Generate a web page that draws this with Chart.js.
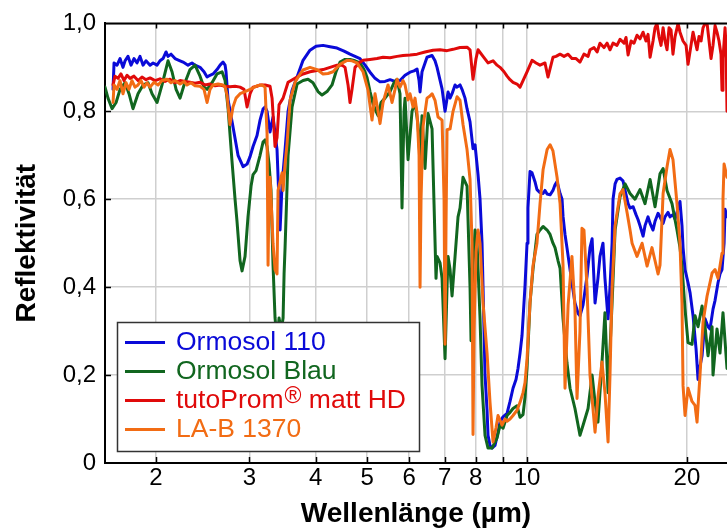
<!DOCTYPE html>
<html>
<head>
<meta charset="utf-8">
<script src="https://cdn.jsdelivr.net/npm/chart.js@4.4.0/dist/chart.umd.min.js"></script>
<style>
  html, body { margin: 0; padding: 0; background: #fff; overflow: hidden; }
  canvas { display: block; }
</style>
</head>
<body>
<canvas id="chart" width="727" height="531"></canvas>
<script>
// Reflectance spectra, log wavelength axis (µm)

const X_TICKS = [2, 3, 4, 5, 6, 7, 8, 9, 10, 20];
const X_LABELS = ['2', '3', '4', '5', '6', '7', '8', '', '10', '20'];
const Y_TICKS = [0, 0.2, 0.4, 0.6, 0.8, 1.0];

// Ormosol 110
const ormosol110Wl = [
  1.661,1.668,1.690,1.712,1.734,1.750,1.772,1.796,1.819,1.843,
  1.867,1.892,1.916,1.950,1.976,2.010,2.036,2.063,2.090,2.108,
  2.136,2.173,2.221,2.250,2.299,2.339,2.370,2.422,2.464,2.497,
  2.529,2.563,2.607,2.642,2.676,2.700,2.711,2.735,2.794,2.856,
  2.919,2.970,3.009,3.048,3.101,3.142,3.183,3.211,3.239,3.281,
  3.324,3.353,3.382,3.427,3.457,3.502,3.548,3.610,3.689,3.786,
  3.902,4.005,4.129,4.256,4.387,4.523,4.641,4.743,4.847,4.954,
  5.062,5.173,5.286,5.402,5.521,5.642,5.765,5.892,6.021,6.126,
  6.207,6.261,6.288,6.342,6.481,6.624,6.710,6.769,6.918,7.008,
  7.100,7.162,7.224,7.319,7.382,7.478,7.543,7.642,7.709,7.810,
  7.912,7.981,8.086,8.156,8.227,8.263,8.335,8.408,8.444,8.517,
  8.592,8.704,8.818,8.895,9.012,9.170,9.289,9.410,9.533,9.616,
  9.701,9.785,9.913,10.0,10.04,10.13,10.22,10.35,10.44,10.58,
  10.72,10.81,10.91,11.05,11.19,11.29,11.39,11.54,11.64,11.69,
  11.79,11.89,12.05,12.15,12.31,12.48,12.58,12.75,12.97,13.14,
  13.26,13.43,13.60,13.72,13.90,14.02,14.21,14.33,14.46,14.52,
  14.65,14.77,14.97,15.16,15.30,15.50,15.63,15.84,16.04,16.18,
  16.32,16.54,16.68,16.90,17.05,17.27,17.42,17.65,17.80,18.04,
  18.19,18.43,18.59,18.83,19.00,19.25,19.41,19.58,19.67,19.84,
  20.10,20.28,20.54,20.81,20.99,21.17,21.36,21.64,21.92,22.11,
  22.40,22.60,22.89,23.09,23.29,23.50,23.60,23.80
];
const ormosol110R = [
  .85,.91,.905,.92,.90,.915,.925,.905,.92,.91,
  .925,.905,.915,.905,.91,.905,.915,.92,.935,.925,
  .93,.92,.915,.912,.905,.91,.905,.90,.89,.878,
  .882,.885,.895,.905,.912,.905,.89,.826,.765,.70,
  .674,.68,.697,.72,.745,.78,.805,.81,.80,.753,
  .787,.75,.713,.53,.635,.713,.80,.848,.878,.916,
  .939,.948,.95,.947,.944,.937,.93,.925,.92,.905,
  .889,.875,.867,.868,.872,.868,.87,.882,.889,.892,
  .896,.87,.844,.89,.923,.927,.915,.90,.851,.80,
  .844,.83,.84,.86,.855,.86,.85,.83,.806,.776,
  .715,.724,.656,.60,.50,.40,.20,.12,.063,.04,
  .034,.04,.07,.093,.105,.113,.14,.17,.19,.215,
  .25,.29,.403,.50,.58,.663,.66,.64,.622,.615,
  .613,.62,.612,.61,.62,.633,.64,.613,.60,.561,
  .52,.49,.44,.41,.364,.34,.335,.36,.425,.49,
  .51,.364,.42,.47,.50,.42,.328,.40,.50,.60,
  .635,.645,.648,.642,.62,.59,.58,.583,.565,.554,
  .54,.516,.54,.56,.545,.53,.55,.568,.56,.545,
  .56,.57,.56,.565,.555,.58,.595,.54,.49,.44,
  .41,.387,.335,.26,.19,.22,.244,.328,.31,.305,
  .35,.37,.41,.43,.44,.50,.577,.56
];

// Ormosol Blau
const ormosolBlauWl = [
  1.604,1.625,1.654,1.683,1.712,1.750,1.780,1.811,1.851,1.892,
  1.933,1.967,2.010,2.054,2.108,2.145,2.183,2.221,2.260,2.319,
  2.370,2.422,2.464,2.497,2.551,2.607,2.665,2.700,2.735,2.782,
  2.819,2.843,2.881,2.906,2.944,2.982,3.022,3.048,3.088,3.142,
  3.183,3.211,3.239,3.267,3.295,3.324,3.353,3.382,3.412,3.442,
  3.472,3.487,3.502,3.548,3.610,3.689,3.786,3.869,3.953,4.040,
  4.111,4.201,4.293,4.368,4.445,4.542,4.641,4.743,4.847,4.932,
  4.997,5.062,5.128,5.196,5.241,5.309,5.402,5.521,5.618,5.691,
  5.765,5.815,5.866,5.892,5.969,6.073,6.153,6.233,6.288,6.342,
  6.425,6.510,6.624,6.681,6.739,6.769,6.858,6.918,7.008,7.069,
  7.100,7.162,7.224,7.319,7.414,7.478,7.576,7.709,7.810,7.844,
  7.912,7.981,8.051,8.156,8.227,8.335,8.444,8.592,8.780,8.895,
  9.012,9.170,9.289,9.410,9.575,9.701,9.828,9.913,10.0,10.13,
  10.26,10.44,10.58,10.72,10.91,11.05,11.19,11.29,11.44,11.54,
  11.69,11.89,12.05,12.31,12.58,12.75,13.03,13.26,13.43,13.60,
  13.84,14.02,14.21,14.46,14.65,14.97,15.30,15.63,15.97,16.32,
  16.68,17.05,17.42,17.80,18.04,18.35,18.75,19.16,19.41,19.58,
  19.84,20.10,20.45,20.72,20.99,21.36,21.64,21.92,22.31,22.40,
  22.79,23.09,23.39,23.80
];
const ormosolBlauR = [
  .855,.83,.806,.82,.85,.865,.84,.806,.84,.86,
  .865,.84,.82,.86,.915,.89,.85,.83,.86,.895,
  .905,.88,.855,.85,.865,.885,.89,.87,.807,.687,
  .60,.55,.46,.437,.47,.56,.63,.656,.665,.70,
  .73,.735,.72,.68,.62,.45,.33,.28,.33,.30,
  .33,.43,.49,.70,.81,.862,.87,.873,.865,.845,
  .837,.845,.86,.89,.912,.918,.918,.915,.91,.895,
  .877,.845,.817,.80,.79,.82,.83,.845,.865,.873,
  .84,.58,.80,.83,.69,.80,.82,.77,.69,.79,
  .67,.795,.76,.59,.42,.47,.455,.42,.237,.40,
  .47,.44,.38,.47,.56,.58,.65,.63,.40,.278,
  .45,.53,.50,.33,.176,.063,.034,.034,.057,.086,
  .079,.108,.115,.124,.13,.104,.11,.15,.215,.364,
  .44,.52,.53,.538,.53,.52,.50,.49,.46,.443,
  .328,.228,.17,.124,.063,.086,.124,.20,.138,.093,
  .228,.342,.16,.364,.53,.606,.635,.613,.60,.622,
  .59,.645,.583,.658,.67,.62,.59,.53,.49,.448,
  .35,.274,.27,.335,.31,.357,.31,.244,.31,.20,
  .305,.25,.342,.215
];

// tutoProm matt HD
const tutoPromWl = [
  1.661,1.675,1.697,1.719,1.742,1.765,1.788,1.819,1.851,1.883,
  1.916,1.950,1.993,2.036,2.081,2.127,2.173,2.221,2.270,2.319,
  2.370,2.422,2.475,2.529,2.585,2.642,2.700,2.758,2.819,2.881,
  2.931,2.970,3.009,3.048,3.101,3.142,3.211,3.281,3.310,3.353,
  3.382,3.412,3.472,3.548,3.689,3.786,3.902,4.023,4.129,4.256,
  4.387,4.484,4.542,4.602,4.641,4.682,4.743,4.847,4.911,5.062,
  5.218,5.356,5.521,5.691,5.841,6.021,6.207,6.425,6.652,6.858,
  7.069,7.255,7.478,7.709,7.810,7.912,8.016,8.086,8.263,8.444,
  8.629,8.780,8.895,9.051,9.170,9.289,9.410,9.575,9.701,9.828,
  10.0,10.22,10.40,10.58,10.81,10.95,11.19,11.34,11.54,11.74,
  11.95,12.15,12.37,12.58,12.80,13.03,13.14,13.37,13.55,13.72,
  13.96,14.15,14.33,14.52,14.77,14.97,15.23,15.36,15.50,15.70,
  15.90,16.11,16.32,16.54,16.75,16.90,17.05,17.27,17.42,17.57,
  17.72,17.88,18.04,18.19,18.35,18.51,18.67,18.83,19.00,19.25,
  19.41,19.67,19.93,20.10,20.36,20.54,20.72,20.90,21.08,21.27,
  21.45,21.64,21.83,22.02,22.21,22.40,22.60,22.79,22.99,23.19,
  23.29,23.39,23.60,23.70,23.80
];
const tutoPromR = [
  .86,.88,.875,.885,.87,.882,.875,.88,.87,.878,
  .872,.876,.87,.874,.868,.873,.865,.87,.868,.866,
  .864,.866,.86,.862,.858,.86,.857,.856,.857,.855,
  .85,.81,.84,.855,.857,.86,.86,.857,.83,.72,
  .74,.815,.83,.866,.878,.885,.89,.893,.895,.90,
  .905,.905,.90,.86,.82,.85,.90,.912,.916,.918,
  .92,.923,.922,.925,.927,.928,.93,.935,.939,.94,
  .938,.941,.945,.946,.94,.873,.92,.94,.925,.91,
  .915,.905,.90,.89,.88,.872,.866,.862,.855,.87,
  .89,.916,.91,.905,.91,.878,.923,.925,.93,.925,
  .93,.92,.92,.912,.93,.925,.94,.945,.935,.955,
  .945,.955,.94,.955,.95,.964,.955,.968,.928,.96,
  .955,.973,.965,.98,.96,.975,.923,.96,.99,1.0,
  .97,.95,.99,.96,.94,.99,.985,.93,.97,1.0,
  .98,.96,.95,.907,.95,.98,.96,.94,.97,.96,
  .99,1.0,1.0,.96,.92,.95,.995,.98,.96,.93,
  .848,.92,.99,.95,.80
];

// LA-B 1370
const lab1370Wl = [
  1.661,1.668,1.690,1.712,1.734,1.757,1.780,1.803,1.827,1.851,
  1.875,1.900,1.925,1.950,1.984,2.019,2.054,2.099,2.136,2.173,
  2.221,2.260,2.289,2.329,2.370,2.422,2.464,2.497,2.529,2.563,
  2.619,2.676,2.700,2.723,2.758,2.794,2.831,2.881,2.944,3.009,
  3.101,3.169,3.211,3.225,3.239,3.253,3.267,3.281,3.310,3.324,
  3.353,3.382,3.397,3.427,3.457,3.472,3.502,3.532,3.579,3.657,
  3.737,3.786,3.902,4.023,4.129,4.219,4.312,4.445,4.582,4.682,
  4.784,4.911,5.018,5.106,5.173,5.241,5.286,5.356,5.473,5.569,
  5.642,5.691,5.765,5.841,5.892,5.969,6.021,6.100,6.153,6.207,
  6.261,6.288,6.315,6.370,6.481,6.566,6.624,6.710,6.798,6.918,
  6.978,7.008,7.039,7.069,7.162,7.255,7.382,7.478,7.576,7.709,
  7.810,7.878,7.912,7.947,8.016,8.086,8.156,8.263,8.408,8.517,
  8.629,8.742,8.818,8.973,9.090,9.170,9.289,9.410,9.575,9.701,
  9.828,9.913,10.0,10.13,10.26,10.44,10.58,10.72,10.91,11.05,
  11.19,11.39,11.54,11.69,11.79,11.95,12.15,12.31,12.42,12.58,
  12.69,12.80,12.97,13.14,13.43,13.60,13.84,14.02,14.21,14.33,
  14.46,14.65,14.97,15.16,15.43,15.63,15.77,16.11,16.47,16.83,
  17.19,17.42,17.65,17.80,18.04,18.35,18.59,18.83,19.16,19.41,
  19.58,19.67,19.84,20.10,20.45,20.72,20.90,21.17,21.45,21.83,
  22.31,22.60,22.89,23.29,23.39,23.50,23.80
];
const lab1370R = [
  .82,.86,.85,.87,.84,.865,.85,.87,.855,.86,
  .87,.855,.865,.855,.866,.86,.87,.873,.865,.87,
  .862,.868,.86,.865,.858,.857,.85,.82,.85,.86,
  .862,.86,.855,.837,.77,.81,.83,.84,.845,.85,
  .858,.86,.855,.80,.749,.45,.62,.65,.55,.50,
  .44,.43,.62,.64,.66,.62,.68,.726,.826,.866,
  .885,.894,.90,.895,.885,.886,.89,.907,.916,.915,
  .91,.89,.848,.78,.84,.80,.772,.82,.86,.82,
  .85,.873,.855,.87,.86,.826,.84,.81,.83,.795,
  .70,.40,.60,.765,.83,.835,.84,.825,.787,.78,
  .60,.27,.55,.758,.76,.80,.833,.825,.77,.713,
  .645,.50,.065,.30,.48,.53,.50,.364,.25,.138,
  .048,.08,.108,.086,.10,.095,.10,.108,.12,.138,
  .16,.183,.237,.364,.448,.50,.59,.667,.713,.724,
  .71,.65,.59,.45,.17,.36,.47,.35,.147,.30,
  .534,.53,.40,.20,.07,.15,.23,.16,.048,.20,
  .40,.54,.613,.622,.57,.53,.50,.47,.50,.448,
  .49,.46,.43,.45,.613,.674,.713,.69,.59,.50,
  .364,.176,.108,.17,.14,.131,.093,.20,.32,.38,
  .432,.44,.42,.477,.60,.68,.65
];

const FONT = "'Liberation Sans', Arial, Helvetica, sans-serif";
Chart.defaults.font.family = FONT;
Chart.defaults.color = '#000';

const toPoints = (wl, r) => {
    if (wl.length !== r.length) console.warn('length mismatch', wl.length, r.length);
    const n = Math.min(wl.length, r.length);
    const pts = [];
    for (let i = 0; i < n; i++) pts.push({ x: wl[i], y: r[i] });
    return pts;
};

const makeSet = (label, wl, r, color, order) => ({
    label,
    data: toPoints(wl, r),
    borderColor: color,
    backgroundColor: color,
    borderWidth: 3,
    pointRadius: 0,
    tension: 0,
    fill: false,
    borderJoinStyle: 'round',
    borderCapStyle: 'round',
    order
});

// inward tick marks, top frame line and the boxed legend
const framePlugin = {
    id: 'frame',
    afterDraw(chart) {
        const { ctx, chartArea: a, scales } = chart;
        ctx.save();
        ctx.strokeStyle = '#000';
        ctx.lineWidth = 2;
        ctx.beginPath();
        ctx.moveTo(a.left - 1, a.top);
        ctx.lineTo(a.right, a.top);
        ctx.stroke();

        ctx.lineWidth = 1.5;
        ctx.beginPath();
        X_TICKS.forEach(v => {
            const px = Math.round(scales.x.getPixelForValue(v)) + 0.5;
            ctx.moveTo(px, a.bottom);
            ctx.lineTo(px, a.bottom - 6);
            ctx.moveTo(px, a.top);
            ctx.lineTo(px, a.top + 5);
        });
        Y_TICKS.slice(1, -1).forEach(v => {
            const py = Math.round(scales.y.getPixelForValue(v)) + 0.5;
            ctx.moveTo(a.left, py);
            ctx.lineTo(a.left + 6, py);
        });
        ctx.stroke();

        // legend box
        const bx = 117, by = 322, bw = 302, bh = 129;
        ctx.fillStyle = '#fff';
        ctx.fillRect(bx, by, bw, bh);
        ctx.strokeStyle = '#333';
        ctx.lineWidth = 1.5;
        ctx.strokeRect(bx + 0.5, by + 0.5, bw, bh);

        const sets = chart.data.datasets;
        ctx.textBaseline = 'middle';
        ctx.textAlign = 'left';
        sets.forEach((ds, i) => {
            const y = by + 20.5 + i * 29;
            ctx.strokeStyle = ds.borderColor;
            ctx.lineWidth = 3;
            ctx.beginPath();
            ctx.moveTo(125, y);
            ctx.lineTo(165, y);
            ctx.stroke();
            ctx.fillStyle = ds.borderColor;
            let x = 176;
            const parts = ds.label.split('®');
            ctx.font = '26.5px ' + FONT;
            ctx.fillText(parts[0], x, y);
            if (parts.length > 1) {
                x += ctx.measureText(parts[0]).width + 1;
                ctx.font = '23px ' + FONT;
                ctx.fillText('®', x, y - 4);
                x += ctx.measureText('®').width;
                ctx.font = '26.5px ' + FONT;
                ctx.fillText(parts[1], x, y);
            }
        });
        ctx.restore();
    }
};

const ctx = document.getElementById('chart').getContext('2d');
new Chart(ctx, {
    type: 'line',
    data: {
        datasets: [
            makeSet('Ormosol 110', ormosol110Wl, ormosol110R, '#0a0ad8', 3),
            makeSet('Ormosol Blau', ormosolBlauWl, ormosolBlauR, '#11661f', 2),
            makeSet('tutoProm® matt HD', tutoPromWl, tutoPromR, '#e00a0a', 1),
            makeSet('LA-B 1370', lab1370Wl, lab1370R, '#f26c14', 0)
        ]
    },
    options: {
        responsive: false,
        animation: false,
        devicePixelRatio: 1,
        layout: { padding: { top: 21, right: 0, bottom: 0, left: 0 } },
        plugins: {
            legend: { display: false },
            tooltip: { enabled: false }
        },
        scales: {
            x: {
                type: 'logarithmic',
                min: 1.604,
                max: 23.8,
                afterBuildTicks: scale => {
                    scale.ticks = X_TICKS.map(v => ({ value: v }));
                },
                afterFit: scale => { scale.height = 68; },
                ticks: {
                    autoSkip: false,
                    maxRotation: 0,
                    padding: 1,
                    color: '#000',
                    font: { size: 24 },
                    callback: (value, index) => X_LABELS[index]
                },
                grid: { color: '#cfcfcf', lineWidth: 1.5, drawTicks: false },
                border: { color: '#000', width: 2 },
                title: {
                    display: true,
                    text: 'Wellenlänge (µm)',
                    color: '#000',
                    font: { size: 28, weight: 'bold' },
                    padding: { top: 0, bottom: 0 }
                }
            },
            y: {
                min: 0,
                max: 1,
                afterBuildTicks: scale => {
                    scale.ticks = Y_TICKS.map(v => ({ value: v }));
                },
                afterFit: scale => { scale.width = 105; },
                ticks: {
                    padding: 9,
                    color: '#000',
                    font: { size: 24 },
                    callback: value => value === 0 ? '0' : value.toFixed(1).replace('.', ',')
                },
                grid: { color: '#cfcfcf', lineWidth: 1.5, drawTicks: false },
                border: { color: '#000', width: 2 },
                title: {
                    display: true,
                    text: 'Reflektivität',
                    color: '#000',
                    font: { size: 28, weight: 'bold' },
                    padding: { top: 10, bottom: 0 }
                }
            }
        }
    },
    plugins: [framePlugin]
});
</script>
</body>
</html>
